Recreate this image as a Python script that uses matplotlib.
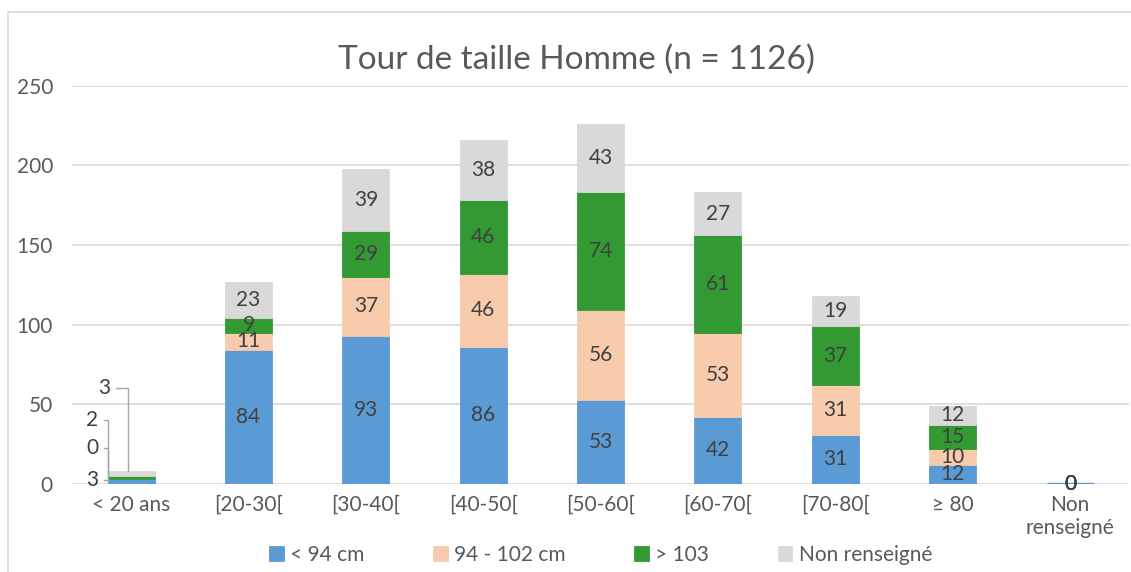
import numpy as np
import matplotlib
matplotlib.use("Agg")
import matplotlib.pyplot as plt
from matplotlib.patches import Rectangle

plt.rcParams['font.family'] = ['Lato', 'DejaVu Sans']

categories = ['< 20 ans', '[20-30[', '[30-40[', '[40-50[', '[50-60[',
              '[60-70[', '[70-80[', '≥ 80', 'Non\nrenseigné']
series_names = ['< 94 cm', '94 - 102 cm', '> 103', 'Non renseigné']
lt94 = [3, 84, 93, 86, 53, 42, 31, 12, 0]
b94_102 = [0, 11, 37, 46, 56, 53, 31, 10, 0]
gt103 = [2, 9, 29, 46, 74, 61, 37, 15, 0]
non_rens = [3, 23, 39, 38, 43, 27, 19, 12, 0]
colors = ['#5b9bd5', '#f8cbad', '#339933', '#d9d9d9']

fig = plt.figure(figsize=(11.31, 5.72), dpi=100)
ax = fig.add_axes([0.064, 0.154, 0.934, 0.696])

# chart frame
fig.patches.append(Rectangle((0.007, -0.1), 1.1, 1.079, transform=fig.transFigure,
                             fill=False, edgecolor='#d9d9d9', linewidth=1.2))

x = np.arange(len(categories))
width = 0.4
bottom = np.zeros(len(categories))
bars = []
for vals, name, c in zip([lt94, b94_102, gt103, non_rens], series_names, colors):
    vals = np.array(vals, dtype=float)
    ax.bar(x, vals, width, bottom=bottom, color=c, edgecolor=c,
           linewidth=0.6, label=name, zorder=2)
    bars.append((vals, bottom.copy()))
    bottom += vals

# zero-height bars of the last column show as a thin line
ax.hlines(0.3, x[-1] - width / 2, x[-1] + width / 2, color=colors[0], lw=1, zorder=2)

# data labels (inside segments), except first column which uses callouts
for vals, bot in bars:
    for i in range(1, len(categories)):
        ax.text(x[i], bot[i] + vals[i] / 2, f"{int(vals[i])}", ha='center',
                va='center', fontsize=15, color='#404040', zorder=3)

# callouts for first column
label_y = [2.5, 22.5, 40, 60]
lx = x[0] - 0.28
for k, (vals, bot) in enumerate(bars):
    seg_mid = bot[0] + vals[0] / 2
    ty = label_y[k]
    if k < 3:
        xl = x[0] - 0.2
        ax.plot([lx + 0.05, xl, xl], [ty, ty, min(seg_mid, 3)], color='#a6a6a6',
                lw=1, zorder=3, clip_on=False)
        ax.text(lx, ty, f"{int(vals[0])}", ha='right', va='center', fontsize=15,
                color='#404040', zorder=3)
    else:
        xs = x[0] - 0.13
        xl = x[0] - 0.03
        ax.plot([xs, xl, xl], [ty, ty, bot[0] + vals[0]], color='#a6a6a6',
                lw=1, zorder=3, clip_on=False)
        ax.text(xs - 0.05, ty, f"{int(vals[0])}", ha='right', va='center',
                fontsize=15, color='#404040', zorder=3)

ax.set_xlim(-0.5, len(categories) - 0.5)
ax.set_ylim(0, 250)
ax.set_yticks(np.arange(0, 251, 50))
ax.set_xticks(x)
ax.set_xticklabels(categories)
ax.tick_params(axis='both', length=0, labelsize=15, colors='#595959')
ax.tick_params(axis='y', pad=22 - 8)
ax.tick_params(axis='x', pad=8)
for s in ax.spines.values():
    s.set_visible(False)
ax.yaxis.grid(True, color='#d9d9d9', linewidth=1.2, zorder=0)
ax.set_axisbelow(True)

fig.text(0.51, 0.895, 'Tour de taille Homme (n = 1126)', fontsize=24,
         color='#595959', ha='center', va='center')

ax.legend(loc='lower center', bbox_to_anchor=(0.5, -0.25), ncol=4, frameon=False,
          fontsize=15, labelcolor='#595959', handlelength=0.7, handleheight=0.7,
          handletextpad=0.3, columnspacing=3.3)

fig.savefig('out.png', dpi=100)
